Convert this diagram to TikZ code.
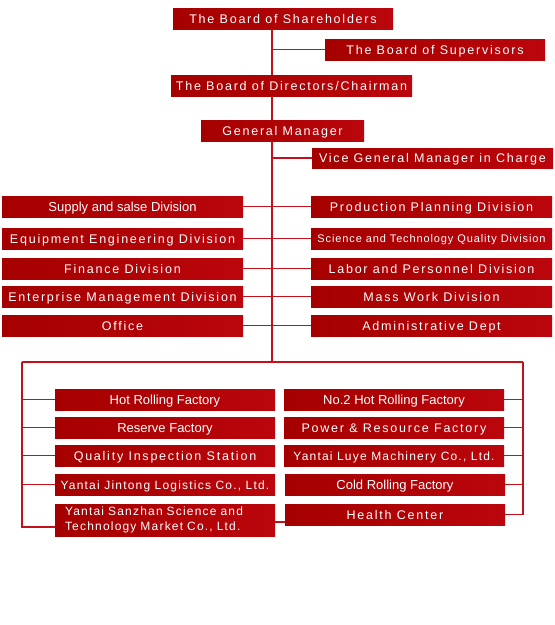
\documentclass[tikz,border=0pt]{standalone}
\usepackage{fontspec}
\setmainfont{Liberation Sans}
\newfontfamily\widefont[LetterSpace=14]{Liberation Sans}
\newfontfamily\midfont[LetterSpace=10]{Liberation Sans}
\newfontfamily\narrowfont[LetterSpace=8]{Liberation Sans}
\usepackage{xcolor}
\usepackage{tikz}

\newcommand{\pxu}{0.75pt}
\definecolor{boxdark}{RGB}{165,0,0}
\definecolor{boxred}{RGB}{186,6,12}
\definecolor{linkred}{RGB}{196,16,26}

\begin{document}
\begin{tikzpicture}[
        x=\pxu, y=-\pxu,
        unit/.style={
            rectangle, inner sep=0pt, left color=boxdark, right color=boxred,
            text=white, minimum height=21*\pxu, text height=6.9pt, text depth=0pt,
            font=\widefont\fontsize{9.4}{11}\selectfont
        },
        wide/.style={unit, minimum width=241*\pxu},
        short/.style={unit, minimum width=220*\pxu},
        tight/.style={font=\fontsize{9.75}{11}\selectfont},
        company/.style={font=\midfont\fontsize{9}{11}\selectfont},
        link/.style={draw=linkred, line width=1.6*\pxu}
    ]

    \fill[white] (0,0) rectangle (555,625);

    % Top of the chart
    \node[short] (share) at (283,18.5) {The Board of Shareholders};
    \node[short] (superv) at (435,49.5) {The Board of Supervisors};
    \node[wide] (direct) at (291.5,85.5) {The Board of Directors/Chairman};
    \node[unit, minimum width=163*\pxu] (gm) at (282.5,130.5) {General Manager};
    \node[wide, minimum height=20*\pxu] (vgm) at (432.5,158) {Vice General Manager in Charge};

    % Divisions
    \node[wide, tight] (supply) at (122.5,206.5) {Supply and salse Division};
    \node[wide] (equip) at (122.5,238.5) {Equipment Engineering Division};
    \node[wide] (finance) at (122.5,268.5) {Finance Division};
    \node[wide] (enterp) at (122.5,296.5) {Enterprise Management Division};
    \node[wide] (office) at (122.5,325.5) {Office};

    \node[wide] (prod) at (431.5,206.5) {Production Planning Division};
    \node[wide, font=\narrowfont\fontsize{8.25}{10}\selectfont, text height=6pt] (science) at (431.5,238.5) {Science and Technology Quality Division};
    \node[wide] (labor) at (431.5,268.5) {Labor and Personnel Division};
    \node[wide] (mass) at (431.5,296.5) {Mass Work Division};
    \node[wide] (admin) at (431.5,325.5) {Administrative Dept};

    % Factories and companies
    \node[short, tight] (hot) at (165,399.5) {Hot Rolling Factory};
    \node[short, tight] (reserve) at (165,427.5) {Reserve Factory};
    \node[short] (quality) at (165,455.5) {Quality Inspection Station};
    \node[short, company] (jintong) at (165,484.5) {Yantai Jintong Logistics Co., Ltd.};
    \node[short, company, minimum height=32*\pxu, text height=, text depth=,
          text width=200*\pxu, align=left] (sanzhan) at (165,520) {Yantai Sanzhan Science and\\Technology Market Co., Ltd.};

    \node[short, tight] (no2) at (394,399.5) {No.2 Hot Rolling Factory};
    \node[short] (power) at (394,427.5) {Power \& Resource Factory};
    \node[short, company] (luye) at (394,455.5) {Yantai Luye Machinery Co., Ltd.};
    \node[short, tight] (cold) at (395,484.5) {Cold Rolling Factory};
    \node[short] (health) at (395,514.5) {Health Center};

    % Trunk and branches
    \coordinate (trunk) at (272,362);
    \coordinate (lcorner) at (22,362);
    \coordinate (rcorner) at (523,362);

    \draw[link] (share.south -| trunk) -- (direct.north -| trunk);
    \draw[link] (direct.south -| trunk) -- (gm.north -| trunk);
    \draw[link] (gm.south -| trunk) -- (trunk);
    \draw[link] (superv.west) -- (superv.west -| trunk);
    \foreach \n in {vgm, prod, science, labor, mass, admin}
        \draw[link] (\n.west) -- (\n.west -| trunk);
    \foreach \n in {supply, equip, finance, enterp, office}
        \draw[link] (\n.east) -- (\n.east -| trunk);

    % Bottom bracket
    \draw[link] (lcorner) -- (rcorner);
    \draw[link] (lcorner) |- ([yshift=-7*\pxu]sanzhan.west);
    \foreach \n in {hot, reserve, quality, jintong}
        \draw[link] (\n.west) -- (\n.west -| lcorner);
    \draw[link] (rcorner) |- (health.east);
    \foreach \n in {no2, power, luye, cold}
        \draw[link] (\n.east) -- (\n.east -| rcorner);
    \draw[link] ([yshift=-2*\pxu]sanzhan.east) -- ([yshift=-7.5*\pxu]health.west);

\end{tikzpicture}
\end{document}
